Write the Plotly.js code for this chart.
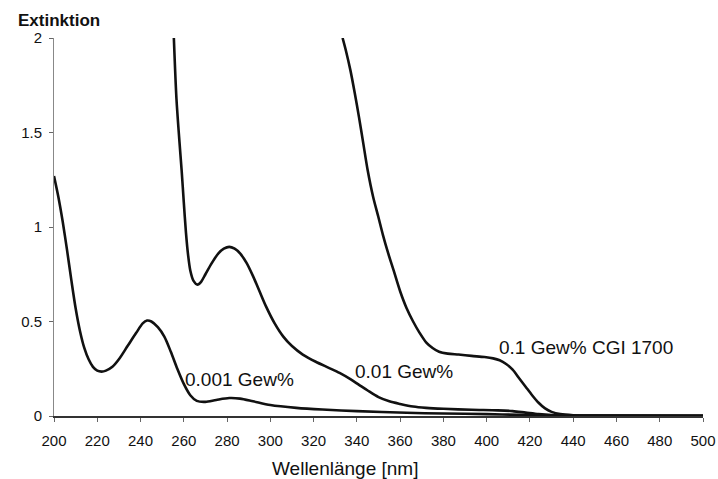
<!DOCTYPE html>
<html>
<head>
<meta charset="utf-8">
<script src="https://cdn.plot.ly/plotly-3.0.1.min.js"></script>
<style>html,body{margin:0;padding:0;background:#fff;}#chart{width:718px;height:479px;}</style>
</head>
<body>
<div id="chart"></div>
<script>
// Wavelength (nm) and extinction values
const wl001 = [200, 202, 204, 206, 208, 210, 212, 214, 216, 218, 220, 222, 224, 227, 230, 234, 238, 241, 243, 245, 248, 251, 254, 257, 260, 263, 266, 270, 275, 281, 286, 292, 300, 312, 324, 340, 363, 380, 400, 415, 430, 450, 500];
const ext001 = [1.27, 1.16, 1.03, 0.88, 0.72, 0.57, 0.45, 0.36, 0.30, 0.26, 0.24, 0.235, 0.24, 0.26, 0.30, 0.37, 0.44, 0.49, 0.505, 0.50, 0.47, 0.42, 0.34, 0.25, 0.17, 0.11, 0.08, 0.075, 0.085, 0.095, 0.092, 0.078, 0.058, 0.043, 0.034, 0.026, 0.017, 0.013, 0.01, 0.006, 0.002, 0.001, 0.001];

const wl01 = [255.4, 256.6, 258, 259, 260, 261, 262, 263, 264.5, 266.3, 268, 270, 273, 276, 278.5, 281, 283.5, 286, 289, 292, 295, 298, 302, 306, 310, 315, 321, 327, 332, 337, 341, 345, 350, 355, 360, 366, 372, 380, 393, 405, 412, 418, 424, 430, 440, 500];
const ext01 = [2.0, 1.68, 1.45, 1.30, 1.13, 0.97, 0.85, 0.77, 0.715, 0.695, 0.71, 0.75, 0.81, 0.86, 0.885, 0.895, 0.885, 0.86, 0.81, 0.74, 0.66, 0.58, 0.49, 0.42, 0.37, 0.325, 0.287, 0.255, 0.228, 0.195, 0.165, 0.135, 0.10, 0.078, 0.064, 0.05, 0.043, 0.038, 0.033, 0.03, 0.026, 0.018, 0.01, 0.005, 0.002, 0.001];

const wl1 = [333.4, 335, 337, 339, 341, 343, 345, 347.5, 350, 352, 354.5, 357, 360, 363, 366, 369, 372, 375, 378, 382, 387, 393, 399, 403, 406, 409, 412, 415, 418, 421, 424, 427, 430, 434, 440, 450, 500];
const ext1 = [2.0, 1.93, 1.83, 1.71, 1.58, 1.44, 1.30, 1.16, 1.05, 0.96, 0.86, 0.77, 0.66, 0.57, 0.50, 0.44, 0.39, 0.36, 0.34, 0.33, 0.325, 0.318, 0.312, 0.305, 0.295, 0.275, 0.245, 0.20, 0.155, 0.11, 0.07, 0.04, 0.022, 0.01, 0.004, 0.002, 0.001];

const seriesNames = ["0.001 Gew%", "0.01 Gew%", "0.1 Gew% CGI 1700"];
const labelX = [259.5, 338, 405];
const labelY = [0.191, 0.233, 0.36];

const xTicks = [200, 220, 240, 260, 280, 300, 320, 340, 360, 380, 400, 420, 440, 460, 480, 500];
const yTicks = [0, 0.5, 1, 1.5, 2];
const yTickText = ["0", "0.5", "1", "1.5", "2"];

const xTitle = "Wellenlänge [nm]";
const yTitle = "Extinktion";

const FONT = "Liberation Sans, Arial, Helvetica, sans-serif";
const lineStyle = {color: "#111", width: 2.6, shape: "spline", smoothing: 0.8};

const traces = [
  {x: wl001, y: ext001, name: seriesNames[0]},
  {x: wl01, y: ext01, name: seriesNames[1]},
  {x: wl1, y: ext1, name: seriesNames[2]}
].map(t => Object.assign(t, {type: "scatter", mode: "lines", line: lineStyle, hoverinfo: "skip"}));

const annotations = seriesNames.map((s, i) => ({
  text: s, x: labelX[i], y: labelY[i], xref: "x", yref: "y",
  xanchor: "left", yanchor: "middle", showarrow: false,
  font: {family: FONT, size: 19, color: "#111"}
}));
annotations.push({
  text: yTitle, xref: "paper", yref: "paper", x: -0.0586, y: 1.045,
  xanchor: "left", yanchor: "middle", showarrow: false,
  font: {family: FONT, size: 17, color: "#111", weight: "bold"}
});
annotations.push({
  text: xTitle, xref: "paper", yref: "paper", x: 0.448, y: -0.1376,
  xanchor: "center", yanchor: "middle", showarrow: false,
  font: {family: FONT, size: 19, color: "#111"}
});

const layout = {
  width: 718, height: 479,
  margin: {l: 54, r: 15, t: 38, b: 63, pad: 0},
  paper_bgcolor: "#fff", plot_bgcolor: "#fff",
  showlegend: false,
  font: {family: FONT, color: "#111"},
  xaxis: {
    range: [200, 500], tickvals: xTicks, ticks: "outside", ticklen: 4, tickwidth: 1, tickcolor: "#666",
    showline: true, linecolor: "#333", linewidth: 1.5, showgrid: false, zeroline: false,
    tickfont: {family: FONT, size: 15, color: "#111"}, ticklabelstandoff: 6
  },
  yaxis: {
    range: [0, 2], tickvals: yTicks, ticktext: yTickText, ticks: "outside", ticklen: 4, tickwidth: 1, tickcolor: "#666",
    showline: true, linecolor: "#888", linewidth: 1, showgrid: false, zeroline: false,
    tickfont: {family: FONT, size: 15, color: "#111"}, ticklabelstandoff: 4
  },
  annotations: annotations
};

Plotly.newPlot("chart", traces, layout, {staticPlot: true, displayModeBar: false});
</script>
</body>
</html>
